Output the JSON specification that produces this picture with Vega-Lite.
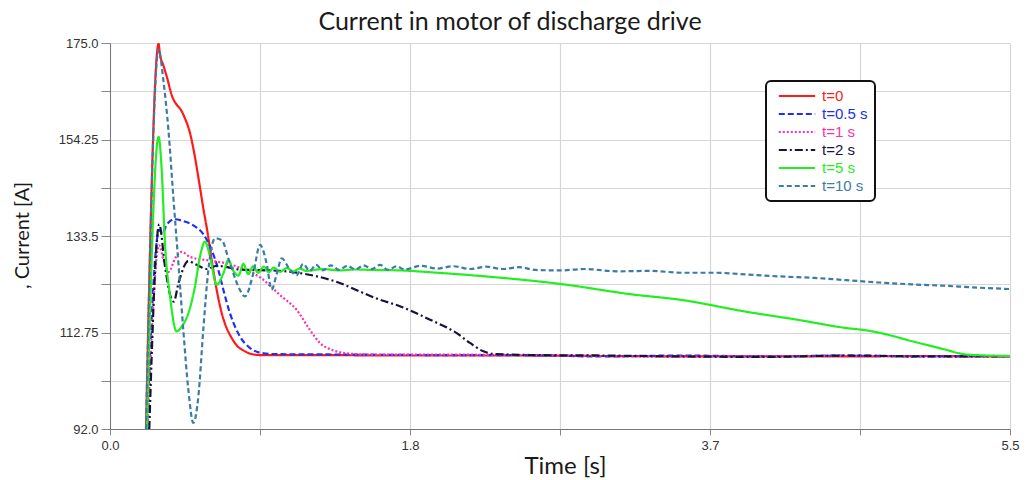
{
  "$schema": "https://vega.github.io/schema/vega-lite/v6.json",
  "width": 900,
  "height": 386,
  "autosize": {"type": "none"},
  "padding": {"left": 110, "top": 43, "right": 16, "bottom": 51},
  "background": "white",
  "title": {"text": "Current in motor of discharge drive", "font": "Lato", "fontSize": 25, "fontWeight": "normal", "color": "#1a1a1a", "anchor": "middle", "dx": -50, "offset": 2},
  "config": {
    "view": {"stroke": null},
    "axis": {"labelFont": "Liberation Sans", "labelFontSize": 13, "labelColor": "#333", "gridColor": "#d6d6d6", "gridWidth": 1.2, "domainColor": "#777", "tickColor": "#888", "labelOverlap": false, "titleFont": "Lato", "titleFontWeight": "normal", "titleColor": "#1a1a1a"}
  },
  "data": {"values": [
    {"s":"t=0","t":0.22,"c":92},{"s":"t=0","t":0.297,"c":174.8},{"s":"t=0","t":0.305,"c":172.6},{"s":"t=0","t":0.326,"c":170.2},{"s":"t=0","t":0.35,"c":167.4},{"s":"t=0","t":0.377,"c":163.8},{"s":"t=0","t":0.41,"c":161.6},{"s":"t=0","t":0.428,"c":160.9},{"s":"t=0","t":0.458,"c":158.8},{"s":"t=0","t":0.49,"c":155.5},{"s":"t=0","t":0.519,"c":150.5},{"s":"t=0","t":0.545,"c":145.0},{"s":"t=0","t":0.570,"c":139.5},{"s":"t=0","t":0.595,"c":134.5},{"s":"t=0","t":0.625,"c":127.5},{"s":"t=0","t":0.652,"c":121.9},{"s":"t=0","t":0.68,"c":117.3},{"s":"t=0","t":0.703,"c":114.6},{"s":"t=0","t":0.74,"c":111.8},{"s":"t=0","t":0.774,"c":110.0},{"s":"t=0","t":0.82,"c":108.8},{"s":"t=0","t":0.856,"c":108.2},{"s":"t=0","t":0.917,"c":107.9},{"s":"t=0","t":1.2,"c":107.9},{"s":"t=0","t":1.8,"c":107.8},{"s":"t=0","t":2.5,"c":107.8},{"s":"t=0","t":3.0,"c":107.7},{"s":"t=0","t":3.7,"c":107.6},{"s":"t=0","t":4.5,"c":107.6},{"s":"t=0","t":5.0,"c":107.7},{"s":"t=0","t":5.5,"c":107.6},

    {"s":"t=0.5 s","t":0.225,"c":92},{"s":"t=0.5 s","t":0.301,"c":134.8},{"s":"t=0.5 s","t":0.32,"c":134.0},{"s":"t=0.5 s","t":0.346,"c":135.9},{"s":"t=0.5 s","t":0.397,"c":137.1},{"s":"t=0.5 s","t":0.448,"c":136.7},{"s":"t=0.5 s","t":0.509,"c":135.8},{"s":"t=0.5 s","t":0.570,"c":133.9},{"s":"t=0.5 s","t":0.621,"c":130.5},{"s":"t=0.5 s","t":0.662,"c":126.2},{"s":"t=0.5 s","t":0.693,"c":121.9},{"s":"t=0.5 s","t":0.733,"c":116.9},{"s":"t=0.5 s","t":0.794,"c":111.9},{"s":"t=0.5 s","t":0.856,"c":109.4},{"s":"t=0.5 s","t":0.917,"c":108.4},{"s":"t=0.5 s","t":1.0,"c":108.1},{"s":"t=0.5 s","t":1.5,"c":108.0},{"s":"t=0.5 s","t":2.0,"c":107.9},{"s":"t=0.5 s","t":2.5,"c":107.9},{"s":"t=0.5 s","t":3.0,"c":107.6},{"s":"t=0.5 s","t":3.5,"c":107.8},{"s":"t=0.5 s","t":4.0,"c":107.6},{"s":"t=0.5 s","t":4.5,"c":107.8},{"s":"t=0.5 s","t":5.0,"c":107.6},{"s":"t=0.5 s","t":5.5,"c":107.6},

    {"s":"t=1 s","t":0.23,"c":92},{"s":"t=1 s","t":0.30,"c":131.5},{"s":"t=1 s","t":0.33,"c":128.0},{"s":"t=1 s","t":0.357,"c":125.8},{"s":"t=1 s","t":0.40,"c":128.8},{"s":"t=1 s","t":0.438,"c":130.1},{"s":"t=1 s","t":0.489,"c":129.0},{"s":"t=1 s","t":0.591,"c":128.3},{"s":"t=1 s","t":0.713,"c":127.6},{"s":"t=1 s","t":0.815,"c":126.4},{"s":"t=1 s","t":0.917,"c":124.6},{"s":"t=1 s","t":1.039,"c":120.8},{"s":"t=1 s","t":1.141,"c":117.6},{"s":"t=1 s","t":1.222,"c":113.3},{"s":"t=1 s","t":1.283,"c":110.5},{"s":"t=1 s","t":1.365,"c":108.9},{"s":"t=1 s","t":1.467,"c":108.2},{"s":"t=1 s","t":1.6,"c":108.0},{"s":"t=1 s","t":2.0,"c":108.0},{"s":"t=1 s","t":2.5,"c":107.9},{"s":"t=1 s","t":3.0,"c":107.7},{"s":"t=1 s","t":3.5,"c":107.6},{"s":"t=1 s","t":4.0,"c":107.7},{"s":"t=1 s","t":4.5,"c":107.7},{"s":"t=1 s","t":5.0,"c":107.6},{"s":"t=1 s","t":5.5,"c":107.5},

    {"s":"t=2 s","t":0.24,"c":92},{"s":"t=2 s","t":0.301,"c":136.0},{"s":"t=2 s","t":0.336,"c":127.0},{"s":"t=2 s","t":0.37,"c":120.5},{"s":"t=2 s","t":0.39,"c":119.4},{"s":"t=2 s","t":0.418,"c":123.3},{"s":"t=2 s","t":0.479,"c":128.1},{"s":"t=2 s","t":0.530,"c":127.3},{"s":"t=2 s","t":0.591,"c":126.4},{"s":"t=2 s","t":0.652,"c":127.1},{"s":"t=2 s","t":0.794,"c":126.3},{"s":"t=2 s","t":1.039,"c":126.0},{"s":"t=2 s","t":1.344,"c":124.1},{"s":"t=2 s","t":1.650,"c":119.8},{"s":"t=2 s","t":1.772,"c":118.4},{"s":"t=2 s","t":1.956,"c":115.5},{"s":"t=2 s","t":2.119,"c":112.6},{"s":"t=2 s","t":2.2,"c":110.5},{"s":"t=2 s","t":2.281,"c":108.7},{"s":"t=2 s","t":2.363,"c":108.1},{"s":"t=2 s","t":2.6,"c":107.9},{"s":"t=2 s","t":3.0,"c":107.8},{"s":"t=2 s","t":3.5,"c":107.6},{"s":"t=2 s","t":4.0,"c":107.5},{"s":"t=2 s","t":4.5,"c":107.8},{"s":"t=2 s","t":5.0,"c":107.6},{"s":"t=2 s","t":5.5,"c":107.7},

    {"s":"t=5 s","t":0.225,"c":92},{"s":"t=5 s","t":0.297,"c":154.8},{"s":"t=5 s","t":0.316,"c":147.7},{"s":"t=5 s","t":0.336,"c":131.9},{"s":"t=5 s","t":0.367,"c":120.5},{"s":"t=5 s","t":0.407,"c":113.0},{"s":"t=5 s","t":0.438,"c":114.0},{"s":"t=5 s","t":0.479,"c":116.9},{"s":"t=5 s","t":0.519,"c":122.6},{"s":"t=5 s","t":0.550,"c":129.1},{"s":"t=5 s","t":0.581,"c":132.3},{"s":"t=5 s","t":0.611,"c":129.1},{"s":"t=5 s","t":0.652,"c":123.0},{"s":"t=5 s","t":0.693,"c":125.5},{"s":"t=5 s","t":0.723,"c":128.3},{"s":"t=5 s","t":0.754,"c":126.0},{"s":"t=5 s","t":0.785,"c":125.0},{"s":"t=5 s","t":0.815,"c":127.5},{"s":"t=5 s","t":0.845,"c":125.3},{"s":"t=5 s","t":0.875,"c":127.0},{"s":"t=5 s","t":0.905,"c":125.6},{"s":"t=5 s","t":0.94,"c":126.9},{"s":"t=5 s","t":0.97,"c":125.7},{"s":"t=5 s","t":1.0,"c":126.7},{"s":"t=5 s","t":1.04,"c":125.8},{"s":"t=5 s","t":1.08,"c":126.6},{"s":"t=5 s","t":1.12,"c":125.9},{"s":"t=5 s","t":1.16,"c":126.5},{"s":"t=5 s","t":1.2,"c":126.0},{"s":"t=5 s","t":1.3,"c":126.4},{"s":"t=5 s","t":1.4,"c":126.1},{"s":"t=5 s","t":1.5,"c":126.3},{"s":"t=5 s","t":1.6,"c":126.2},{"s":"t=5 s","t":1.772,"c":126.1},{"s":"t=5 s","t":2.0,"c":125.6},{"s":"t=5 s","t":2.3,"c":124.8},{"s":"t=5 s","t":2.75,"c":123.2},{"s":"t=5 s","t":3.2,"c":120.9},{"s":"t=5 s","t":3.483,"c":119.8},{"s":"t=5 s","t":3.891,"c":117.2},{"s":"t=5 s","t":4.2,"c":115.5},{"s":"t=5 s","t":4.502,"c":113.7},{"s":"t=5 s","t":4.624,"c":113.2},{"s":"t=5 s","t":4.75,"c":112.3},{"s":"t=5 s","t":4.909,"c":110.8},{"s":"t=5 s","t":5.0,"c":110.0},{"s":"t=5 s","t":5.113,"c":109.0},{"s":"t=5 s","t":5.2,"c":108.2},{"s":"t=5 s","t":5.235,"c":108.0},{"s":"t=5 s","t":5.5,"c":107.7},

    {"s":"t=10 s","t":0.22,"c":92},{"s":"t=10 s","t":0.297,"c":173.6},{"s":"t=10 s","t":0.326,"c":167.0},{"s":"t=10 s","t":0.357,"c":156.3},{"s":"t=10 s","t":0.387,"c":141.9},{"s":"t=10 s","t":0.418,"c":127.6},{"s":"t=10 s","t":0.448,"c":113.3},{"s":"t=10 s","t":0.479,"c":100.4},{"s":"t=10 s","t":0.509,"c":93.3},{"s":"t=10 s","t":0.540,"c":99.0},{"s":"t=10 s","t":0.570,"c":113.3},{"s":"t=10 s","t":0.601,"c":126.2},{"s":"t=10 s","t":0.642,"c":133.0},{"s":"t=10 s","t":0.682,"c":132.6},{"s":"t=10 s","t":0.733,"c":127.6},{"s":"t=10 s","t":0.794,"c":121.9},{"s":"t=10 s","t":0.825,"c":120.5},{"s":"t=10 s","t":0.876,"c":125.5},{"s":"t=10 s","t":0.917,"c":131.6},{"s":"t=10 s","t":0.957,"c":127.6},{"s":"t=10 s","t":0.988,"c":122.0},{"s":"t=10 s","t":1.02,"c":125.5},{"s":"t=10 s","t":1.049,"c":128.7},{"s":"t=10 s","t":1.1,"c":126.2},{"s":"t=10 s","t":1.141,"c":125.1},{"s":"t=10 s","t":1.18,"c":127.5},{"s":"t=10 s","t":1.22,"c":126.0},{"s":"t=10 s","t":1.26,"c":127.3},{"s":"t=10 s","t":1.3,"c":126.1},{"s":"t=10 s","t":1.35,"c":127.2},{"s":"t=10 s","t":1.4,"c":126.2},{"s":"t=10 s","t":1.45,"c":127.1},{"s":"t=10 s","t":1.5,"c":126.3},{"s":"t=10 s","t":1.55,"c":127.2},{"s":"t=10 s","t":1.6,"c":126.4},{"s":"t=10 s","t":1.65,"c":127.3},{"s":"t=10 s","t":1.7,"c":126.2},{"s":"t=10 s","t":1.75,"c":127.0},{"s":"t=10 s","t":1.8,"c":126.3},{"s":"t=10 s","t":1.9,"c":127.1},{"s":"t=10 s","t":2.0,"c":126.5},{"s":"t=10 s","t":2.1,"c":127.0},{"s":"t=10 s","t":2.2,"c":126.4},{"s":"t=10 s","t":2.3,"c":126.9},{"s":"t=10 s","t":2.4,"c":126.4},{"s":"t=10 s","t":2.5,"c":126.8},{"s":"t=10 s","t":2.6,"c":126.2},{"s":"t=10 s","t":2.75,"c":126.1},{"s":"t=10 s","t":2.9,"c":126.4},{"s":"t=10 s","t":3.1,"c":125.9},{"s":"t=10 s","t":3.3,"c":126.0},{"s":"t=10 s","t":3.5,"c":125.6},{"s":"t=10 s","t":3.7,"c":125.6},{"s":"t=10 s","t":3.9,"c":125.2},{"s":"t=10 s","t":4.1,"c":124.8},{"s":"t=10 s","t":4.3,"c":124.5},{"s":"t=10 s","t":4.5,"c":124.0},{"s":"t=10 s","t":4.7,"c":123.5},{"s":"t=10 s","t":4.9,"c":123.1},{"s":"t=10 s","t":5.1,"c":122.8},{"s":"t=10 s","t":5.3,"c":122.4},{"s":"t=10 s","t":5.5,"c":122.1}
  ]},
  "mark": {"type": "line", "strokeWidth": 2.2, "clip": true, "interpolate": "monotone"},
  "encoding": {
    "x": {"field": "t", "type": "quantitative", "scale": {"domain": [0, 5.5], "nice": false, "zero": false},
      "axis": {"title": "Time [s]", "titleFontSize": 24, "titleX": 455, "titleY": 37, "titleBaseline": "middle", "tickSize": 6,
        "values": [0, 0.916667, 1.833333, 2.75, 3.666667, 4.583333, 5.5],
        "labelExpr": "abs(datum.value)<0.01 ? '0.0' : abs(datum.value-1.833333)<0.01 ? '1.8' : abs(datum.value-3.666667)<0.01 ? '3.7' : abs(datum.value-5.5)<0.01 ? '5.5' : ''",
        "labelFlush": false, "labelPadding": 4}},
    "y": {"field": "c", "type": "quantitative", "scale": {"domain": [92, 175], "nice": false, "zero": false},
      "axis": {"title": ", Current [A]", "titleFontSize": 20, "titleX": -88, "titleY": 192, "titleBaseline": "middle", "tickSize": 9,
        "values": [92, 102.375, 112.75, 123.125, 133.5, 143.875, 154.25, 164.625, 175],
        "labelExpr": "datum.value==175 ? '175.0' : datum.value==154.25 ? '154.25' : datum.value==133.5 ? '133.5' : datum.value==112.75 ? '112.75' : datum.value==92 ? '92.0' : ''",
        "labelPadding": 3}},
    "color": {"field": "s", "type": "nominal",
      "scale": {"domain": ["t=0", "t=0.5 s", "t=1 s", "t=2 s", "t=5 s", "t=10 s"], "range": ["#ff1a1a", "#2030f0", "#ff2fa8", "#14143c", "#22ee22", "#3b7ca6"]},
      "legend": {"orient": "none", "legendX": 656, "legendY": 38, "title": null, "strokeColor": "#111", "cornerRadius": 5, "padding": 7, "fillColor": "white",
        "symbolType": "M-2.6,0H2.6", "symbolSize": 196, "symbolStrokeWidth": 2, "labelFont": "Liberation Sans", "labelFontSize": 15, "labelOffset": 17, "rowPadding": 2, "symbolOffset": 16, "labelLimit": 200,
        "encode": {"labels": {"update": {"fill": {"scale": "color", "field": "value"}}}, "legend": {"update": {"strokeWidth": {"value": 2}}}}}},
    "strokeDash": {"field": "s", "type": "nominal",
      "scale": {"domain": ["t=0", "t=0.5 s", "t=1 s", "t=2 s", "t=5 s", "t=10 s"], "range": [[1, 0], [6, 3], [2, 2], [8, 3, 2, 3], [1, 0], [5, 3]]}}
  }
}
